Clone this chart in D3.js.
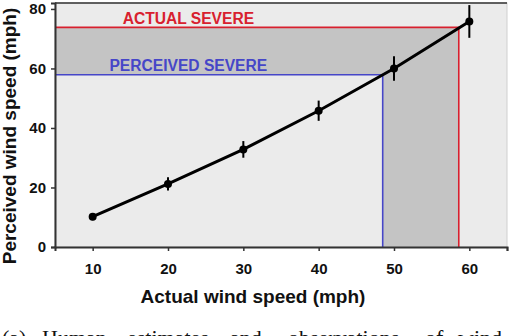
<!DOCTYPE html>
<html>
<head>
<meta charset="utf-8">
<script src="https://cdn.jsdelivr.net/npm/d3@7"></script>
<style>
  body { margin: 0; background: #fff; }
  svg { display: block; font-family: "Liberation Sans", Arial, sans-serif; }
  .axis-title { font-size: 19px; font-weight: bold; fill: #111; }
  .tick text { font-size: 15px; font-weight: bold; font-family: "Liberation Sans", Arial, sans-serif; }
  .caption { font-family: "Liberation Serif", "Times New Roman", serif; font-size: 22px; fill: #111; }
</style>
</head>
<body>
<svg id="chart" width="510" height="336"></svg>
<script>
// data
var actualSpeed = [10, 20, 30, 40, 50, 60];
var perceivedSpeed = [10.2, 21.2, 32.8, 45.8, 60.0, 75.8];
var errorSize = [1.2, 2.2, 2.8, 3.4, 4.1, 5.5];
var xTicks = [10, 20, 30, 40, 50, 60, 65];
var yTicks = [0, 20, 40, 60, 80];
// severe thresholds: [actual, perceived]
var actualSevere = [58.6, 73.8];
var perceivedSevere = [48.5, 57.9];
var captionWords = ["(a)", "Human", "estimates", "and", "observations", "of", "wind"];
var captionX = [2, 42, 127, 230, 288, 425, 458];

var svg = d3.select("#chart");
var plotLeft = 55, plotRight = 507, plotTop = 3, plotBottom = 247;

var x = d3.scaleLinear().domain([5, 65]).range([plotLeft, plotRight]);
var y = d3.scaleLinear().domain([0, 82]).range([plotBottom, plotTop]);

// plot background
svg.append("rect")
    .attr("x", plotLeft).attr("y", plotTop)
    .attr("width", plotRight - plotLeft).attr("height", plotBottom - plotTop)
    .attr("fill", "#ebebeb")
    .attr("stroke", "#cfcfcf");

// shaded L region between the thresholds
var shade = "M" + x(5) + "," + y(actualSevere[1]) +
    "H" + x(actualSevere[0]) + "V" + y(0) +
    "H" + x(perceivedSevere[0]) + "V" + y(perceivedSevere[1]) +
    "H" + x(5) + "Z";
svg.append("path").attr("d", shade).attr("fill", "#c4c4c4");

// threshold lines
function thresholdLine(pt, color) {
  svg.append("path")
      .attr("d", "M" + x(5) + "," + y(pt[1]) + "H" + x(pt[0]) + "V" + y(0))
      .attr("fill", "none")
      .attr("stroke", color)
      .attr("stroke-width", 1.6);
}
thresholdLine(actualSevere, "#d8202e");
thresholdLine(perceivedSevere, "#4646c8");

svg.append("text")
    .attr("x", x(22.7)).attr("y", y(actualSevere[1]) - 3.5)
    .attr("text-anchor", "middle")
    .attr("font-size", 15.6).attr("font-weight", "bold")
    .attr("fill", "#d8202e")
    .text("ACTUAL SEVERE");
svg.append("text")
    .attr("x", x(22.7)).attr("y", y(perceivedSevere[1]) - 3.5)
    .attr("text-anchor", "middle")
    .attr("font-size", 15.6).attr("font-weight", "bold")
    .attr("fill", "#4646c8")
    .text("PERCEIVED SEVERE");

// top border
svg.append("line")
    .attr("x1", plotLeft).attr("x2", plotRight)
    .attr("y1", plotTop).attr("y2", plotTop)
    .attr("stroke", "#333").attr("stroke-width", 1.5);

// axes
var xAxis = svg.append("g")
    .attr("transform", "translate(0," + plotBottom + ")")
    .call(d3.axisBottom(x).tickValues(xTicks).tickSize(4).tickPadding(12)
      .tickFormat(function(d) { return d === 65 ? "" : d; }));
var yAxis = svg.append("g")
    .attr("transform", "translate(" + plotLeft + ",0)")
    .call(d3.axisLeft(y).tickValues(yTicks).tickSize(4).tickPadding(5));
[xAxis, yAxis].forEach(function(a) {
  a.select(".domain").attr("stroke", "#333").attr("stroke-width", 2);
  a.selectAll(".tick line").attr("stroke", "#333").attr("stroke-width", 1.5);
  a.selectAll(".tick text").attr("fill", "#111");
});

// series line
var pts = actualSpeed.map(function(d, i) { return [d, perceivedSpeed[i], errorSize[i]]; });
svg.append("path")
    .datum(pts)
    .attr("d", d3.line().x(function(d) { return x(d[0]); }).y(function(d) { return y(d[1]); }))
    .attr("fill", "none")
    .attr("stroke", "#000")
    .attr("stroke-width", 3);

svg.selectAll(".err")
    .data(pts)
    .enter().append("line")
    .attr("class", "err")
    .attr("x1", function(d) { return x(d[0]); })
    .attr("x2", function(d) { return x(d[0]); })
    .attr("y1", function(d) { return y(d[1] - d[2]); })
    .attr("y2", function(d) { return y(d[1] + d[2]); })
    .attr("stroke", "#000")
    .attr("stroke-width", 2);

svg.selectAll(".pt")
    .data(pts)
    .enter().append("circle")
    .attr("class", "pt")
    .attr("cx", function(d) { return x(d[0]); })
    .attr("cy", function(d) { return y(d[1]); })
    .attr("r", 4)
    .attr("fill", "#000");

// axis titles
svg.append("text")
    .attr("class", "axis-title")
    .attr("x", 253).attr("y", 303)
    .attr("text-anchor", "middle")
    .text("Actual wind speed (mph)");
svg.append("text")
    .attr("class", "axis-title")
    .attr("transform", "translate(16,136) rotate(-90)")
    .attr("text-anchor", "middle")
    .text("Perceived wind speed (mph)");

// caption, partly cut off at the bottom
svg.append("text")
    .attr("class", "caption")
    .attr("y", 345)
    .selectAll("tspan")
    .data(captionWords)
    .enter().append("tspan")
    .attr("x", function(d, i) { return captionX[i]; })
    .text(function(d) { return d; });
</script>
</body>
</html>
